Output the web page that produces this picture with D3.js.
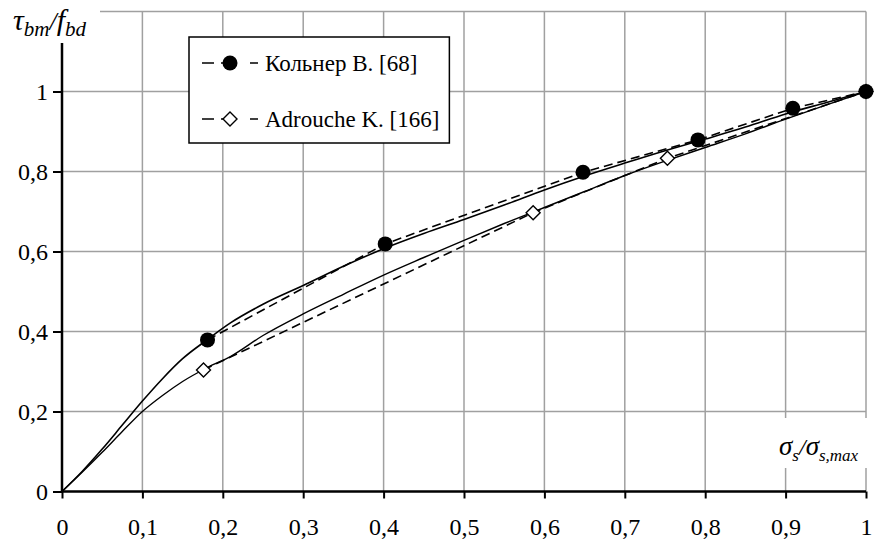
<!DOCTYPE html>
<html lang="en">
<head>
<meta charset="utf-8">
<title>tau bm / f bd</title>
<script src="https://d3js.org/d3.v7.min.js"></script>
<style>
body{margin:0;background:#fff;}
svg text{font-family:"Liberation Serif","Times New Roman",serif;fill:#000;}
</style>
</head>
<body>
<div id="chart"></div>
<script>
// tick values
var xTicks = [0,0.1,0.2,0.3,0.4,0.5,0.6,0.7,0.8,0.9,1]
var yTicks = [0,0.2,0.4,0.6,0.8,1]
var yGrid = [0.2,0.4,0.6,0.8,1,1.2]

// Кольнер В. [68] - experimental points
var kolX = [0.181,0.402,0.648,0.791,0.909,1]
var kolY = [0.379,0.619,0.798,0.879,0.958,1]
// Adrouche K. [166] - experimental points
var adrX = [0.176,0.586,0.753,1]
var adrY = [0.304,0.697,0.833,1]

// fitted curves (solid)
var fitX = [0,0.025,0.05,0.075,0.1,0.125,0.15,0.181,0.21,0.25,0.3,0.35,0.4,0.45,0.5,0.55,0.6,0.65,0.7,0.75,0.8,0.85,0.9,0.95,1]
var kolFit = [0,0.05,0.106,0.166,0.226,0.282,0.332,0.38,0.422,0.468,0.515,0.563,0.607,0.645,0.68,0.716,0.754,0.789,0.821,0.852,0.881,0.911,0.944,0.972,1]
var adrFit = [0,0.048,0.098,0.15,0.2,0.24,0.275,0.31,0.338,0.39,0.444,0.493,0.541,0.585,0.628,0.67,0.71,0.75,0.79,0.826,0.86,0.894,0.931,0.966,1]

var legendNames = ["Кольнер В. [68]","Adrouche K. [166]"]

var w = 882, h = 547
var serif = "'Liberation Serif','Times New Roman',serif"
var svg = d3.select("#chart").append("svg").attr("width",w).attr("height",h)

var xScale = d3.scaleLinear().domain([0,1]).range([62,866])
var yScale = d3.scaleLinear().domain([0,1.2]).range([491.5,11.5])

var loc = d3.formatLocale({decimal:",",thousands:" ",grouping:[3],currency:["",""]})
var fmt = loc.format(".1~f")

// grid
svg.selectAll(".vgrid").data(xTicks.slice(1)).enter().append("line")
    .attr("x1",function(d){return xScale(d)}).attr("x2",function(d){return xScale(d)})
    .attr("y1",yScale(1.2)).attr("y2",yScale(0))
    .attr("stroke","#a0a0a0").attr("stroke-width",1.5)
svg.selectAll(".hgrid").data(yGrid).enter().append("line")
    .attr("x1",xScale(0)).attr("x2",xScale(1))
    .attr("y1",function(d){return yScale(d)}).attr("y2",function(d){return yScale(d)})
    .attr("stroke","#a0a0a0").attr("stroke-width",1.5)

// axes
var xAxis = d3.axisBottom(xScale).tickValues(xTicks).tickSize(7).tickPadding(19).tickFormat(fmt)
var yAxis = d3.axisLeft(yScale).tickValues(yTicks).tickSize(9).tickPadding(5).tickFormat(fmt)

var gx = svg.append("g").attr("transform","translate(0,"+yScale(0)+")").call(xAxis)
var gy = svg.append("g").attr("transform","translate("+xScale(0)+",0)").call(yAxis)
gx.attr("font-family",serif)
gy.attr("font-family",serif)
gx.select(".domain").remove()
gy.select(".domain").remove()
gx.selectAll("line").attr("stroke","#000").attr("stroke-width",2)
gy.selectAll("line").attr("stroke","#000").attr("stroke-width",2)
gx.selectAll("text").attr("font-size",24).attr("font-family",serif).attr("fill","#000")
gy.selectAll("text").attr("font-size",24).attr("font-family",serif).attr("fill","#000")
svg.append("line").attr("x1",xScale(0)).attr("x2",xScale(1)).attr("y1",yScale(0)).attr("y2",yScale(0))
    .attr("stroke","#000").attr("stroke-width",2.5)
svg.append("line").attr("x1",xScale(0)).attr("x2",xScale(0)).attr("y1",yScale(0)).attr("y2",yScale(1.2))
    .attr("stroke","#000").attr("stroke-width",2.5)

// axis titles (white box hides grid behind)
svg.append("rect").attr("x",0).attr("y",0).attr("width",100).attr("height",43).attr("fill","#fff")
var yt = svg.append("text").attr("x",13).attr("y",30).attr("font-style","italic").attr("font-family",serif)
yt.append("tspan").attr("font-size",30).text("τ")
yt.append("tspan").attr("font-size",21).attr("dy",6).text("bm")
yt.append("tspan").attr("font-size",26).attr("dy",-6).text("/")
yt.append("tspan").attr("font-size",30).text("f")
yt.append("tspan").attr("font-size",21).attr("dy",6).text("bd")

svg.append("rect").attr("x",774).attr("y",418).attr("width",108).attr("height",50).attr("fill","#fff")
var xt = svg.append("text").attr("x",779).attr("y",455).attr("font-style","italic").attr("font-family",serif)
xt.append("tspan").attr("font-size",27).text("σ")
xt.append("tspan").attr("font-size",17).attr("dy",6).text("s")
xt.append("tspan").attr("font-size",24).attr("dy",-6).text("/")
xt.append("tspan").attr("font-size",27).text("σ")
xt.append("tspan").attr("font-size",17).attr("dy",6).text("s,max")

// lines
var line = d3.line().x(function(d){return xScale(d[0])}).y(function(d){return yScale(d[1])})
var smooth = d3.line().curve(d3.curveMonotoneX).x(function(d){return xScale(d[0])}).y(function(d){return yScale(d[1])})

svg.append("path").datum(d3.zip(fitX,kolFit)).attr("d",smooth)
    .attr("fill","none").attr("stroke","#000").attr("stroke-width",1.6)
svg.append("path").datum(d3.zip(fitX,adrFit)).attr("d",smooth)
    .attr("fill","none").attr("stroke","#000").attr("stroke-width",1.4)
svg.append("path").datum(d3.zip(kolX,kolY)).attr("d",line)
    .attr("fill","none").attr("stroke","#000").attr("stroke-width",1.6).attr("stroke-dasharray","9,5")
svg.append("path").datum(d3.zip(adrX,adrY)).attr("d",line)
    .attr("fill","none").attr("stroke","#000").attr("stroke-width",1.6).attr("stroke-dasharray","9,5")

function diamond(cx,cy,s){
    return "M"+cx+","+(cy-s)+"L"+(cx+s)+","+cy+"L"+cx+","+(cy+s)+"L"+(cx-s)+","+cy+"Z"
}

svg.selectAll(".adr").data(d3.zip(adrX,adrY)).enter().append("path")
    .attr("d",function(d){return diamond(xScale(d[0]),yScale(d[1]),7)})
    .attr("fill","#fff").attr("stroke","#000").attr("stroke-width",1.4)
svg.selectAll(".kol").data(d3.zip(kolX,kolY)).enter().append("circle")
    .attr("cx",function(d){return xScale(d[0])}).attr("cy",function(d){return yScale(d[1])})
    .attr("r",7.5).attr("fill","#000")

// legend
var lg = svg.append("g")
var legendFont = 23
var rows = [63,119]
var texts = []
rows.forEach(function(ry,i){
    lg.append("line").attr("x1",202).attr("x2",258).attr("y1",ry).attr("y2",ry)
        .attr("stroke","#000").attr("stroke-width",1.6).attr("stroke-dasharray","12,7,12,17,2,0")
    if(i==0){
        lg.append("circle").attr("cx",230).attr("cy",ry).attr("r",7.5).attr("fill","#000")
    } else {
        lg.append("path").attr("d",diamond(230,ry,7)).attr("fill","#fff").attr("stroke","#000").attr("stroke-width",1.4)
    }
    texts.push(lg.append("text").attr("x",265).attr("y",ry+8).attr("font-size",legendFont)
        .attr("font-family",serif).text(legendNames[i]))
})
var maxW = d3.max(texts,function(t){return t.node().getComputedTextLength()})
lg.insert("rect",":first-child").attr("x",189).attr("y",37).attr("width",265+maxW+10-189).attr("height",106)
    .attr("fill","#fff").attr("stroke","#000").attr("stroke-width",1.5)
</script>
</body>
</html>
